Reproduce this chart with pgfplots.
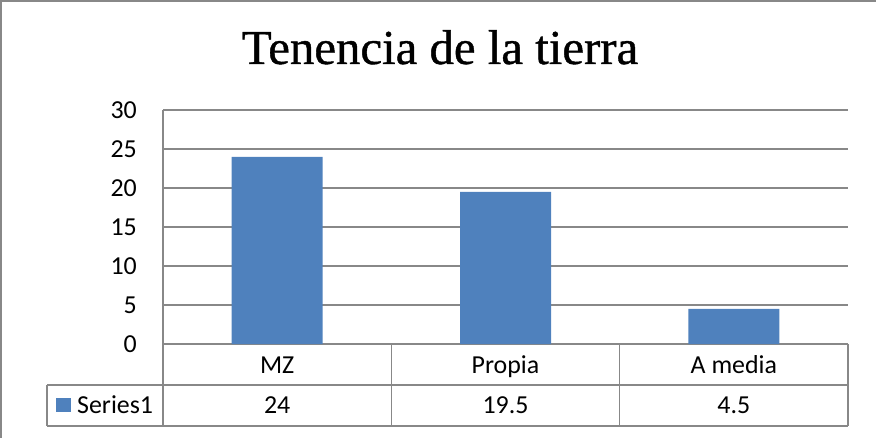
\documentclass[border=0pt]{standalone}
\usepackage{pgfplots}
\pgfplotsset{compat=1.18}
\usepackage{fontspec}
\setmainfont{Carlito}
\newfontfamily\titlefont[FakeBold=0.8]{Liberation Serif}
\definecolor{barblue}{HTML}{4F81BD}
\definecolor{gridgray}{HTML}{888888}
\newcommand{\tf}{\fontsize{26}{26}\selectfont}
\begin{document}
\begin{tikzpicture}[x=1bp,y=1bp]
\path[use as bounding box] (0,0) rectangle (876,-438);
\draw[gridgray, line width=2bp] (1,-438) -- (1,-1) -- (876,-1);
\node[font=\titlefont\fontsize{49}{50}\selectfont, anchor=base, inner sep=0pt] at (440,-64) {Tenencia de la tierra};
\begin{axis}[
  at={(163bp,-344bp)}, anchor=south west,
  scale only axis, width=685bp, height=234bp,
  ybar, bar width=91bp,
  xmin=-0.5, xmax=2.5, ymin=0, ymax=30,
  ytick={0,5,...,30}, xtick={0,1,2},
  xticklabels={MZ,Propia,A media},
  ymajorgrids, grid style={gridgray, line width=1.5bp},
  axis x line*=bottom, axis y line*=left,
  axis line style={gridgray, line width=1.5bp, -},
  major tick length=0pt,
  /pgf/number format/assume math mode=true,
  yticklabel style={font=\tf, anchor=east, inner sep=0pt, xshift=-26bp},
  xticklabel style={font=\tf, anchor=base, inner sep=0pt, yshift=-29.5bp},
  clip=false,
]
\addplot[fill=barblue, draw=none] coordinates {(0,24) (1,19.5) (2,4.5)};
\end{axis}
\begin{scope}[gridgray, line width=1.5bp]
\draw (47,-385) -- (848,-385);
\draw (47,-426) -- (848,-426);
\draw (47,-385) -- (47,-426);
\draw (163,-344) -- (163,-426);
\draw (391.3,-344) -- (391.3,-426);
\draw (619.7,-344) -- (619.7,-426);
\draw (848,-344) -- (848,-426);
\end{scope}
\fill[barblue] (56,-398) rectangle (70.5,-412);
\node[font=\tf, anchor=base west, inner sep=0pt] at (77,-413.5) {Series1};
\node[font=\tf, anchor=base, inner sep=0pt] at (277.2,-413.5) {24};
\node[font=\tf, anchor=base, inner sep=0pt] at (505.5,-413.5) {19.5};
\node[font=\tf, anchor=base, inner sep=0pt] at (733.8,-413.5) {4.5};
\end{tikzpicture}
\end{document}
